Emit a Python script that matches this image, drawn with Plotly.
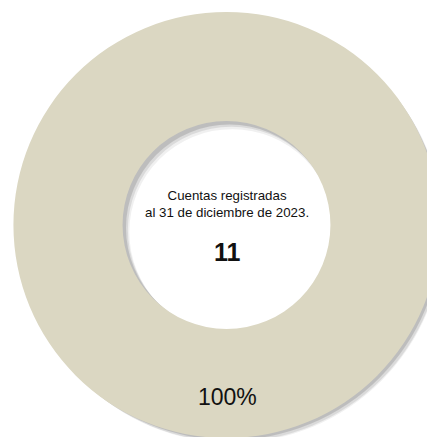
import plotly.graph_objects as go

labels = ["Cuentas registradas"]
values = [11]
ring_color = "#dbd7c2"
center_title = "Cuentas registradas<br>al 31 de diciembre de 2023."
total = sum(values)
pct_label = f"{round(100 * values[0] / total)}%"

W, H = 435, 437
OFF = 8  # default page body margin
cx, cy, R = 226.5 - OFF, 225 - OFF, 213  # figure-pixel centre (from top) and radius
hole = 0.488
FONT = "Liberation Sans, Arial, sans-serif"

def dom(dx, dy, r=R):
    x0 = (cx + dx - r) / W
    x1 = (cx + dx + r) / W
    yc = H - (cy + dy)
    y0 = (yc - r) / H
    y1 = (yc + r) / H
    return dict(x=[max(0, x0), min(1, x1)], y=[max(0, y0), min(1, y1)])

fig = go.Figure()
# soft shadow layers
for off, a in [(7, 0.06), (5, 0.09), (3, 0.13)]:
    fig.add_trace(go.Pie(
        labels=labels, values=values, hole=hole, sort=False,
        marker=dict(colors=[f"rgba(0,0,0,{a})"], line=dict(width=0)),
        textinfo="none", hoverinfo="skip", showlegend=False,
        domain=dom(off, off, R - 1),
    ))

fig.add_trace(go.Pie(
    labels=labels, values=values, hole=hole, sort=False,
    marker=dict(colors=[ring_color], line=dict(width=0)),
    textinfo="none", showlegend=False, domain=dom(0, 0),
))

def note(x, y, text, size):
    fig.add_annotation(x=(x - OFF) / W, y=(H - (y - OFF)) / H, xref="paper", yref="paper",
                       xanchor="center", yanchor="middle", text=text, showarrow=False,
                       font=dict(family=FONT, size=size, color="#111111"))

note(227, 397, pct_label, 23)
note(226.5, 204, center_title, 13.3)
note(227, 252, f"<b>{total}</b>", 25)

fig.update_layout(width=W, height=H, margin=dict(l=0, r=0, t=0, b=0),
                  paper_bgcolor="white", plot_bgcolor="white")
fig.write_html("out.html")
